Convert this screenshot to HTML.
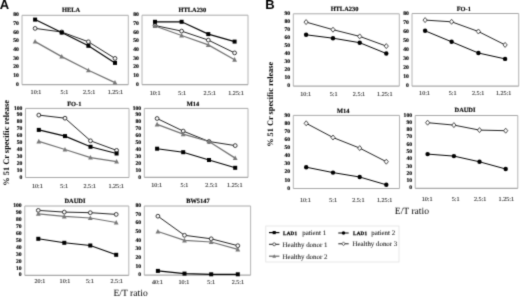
<!DOCTYPE html>
<html><head><meta charset="utf-8"><style>
html,body{margin:0;padding:0;background:#fff;}
body{width:520px;height:298px;overflow:hidden;position:relative;}
svg{position:absolute;left:0;top:0;filter:grayscale(1);}
text{font-family:"Liberation Serif", serif;fill:#000;text-rendering:geometricPrecision;}
.yl{font-size:5.6px;font-weight:bold;text-anchor:end;stroke:#000;stroke-width:0.15px;}
.xl{font-size:6.1px;text-anchor:middle;fill:#111;stroke:#111;stroke-width:0.08px;}
.tt{font-size:6.4px;font-weight:bold;text-anchor:middle;stroke:#000;stroke-width:0.15px;}
.lg{font-size:6.9px;fill:#111;stroke:#111;stroke-width:0.05px;}
.lgb{font-size:5.1px;font-weight:bold;letter-spacing:0.25px;stroke:#000;stroke-width:0.25px;}
.ax{font-size:8.3px;font-weight:bold;}
.et{font-size:9.6px;}
.pl{font-family:"Liberation Sans",sans-serif;font-weight:bold;font-size:13px;}
</style></head><body>
<svg width="520" height="298" viewBox="0 0 520 298">
<defs><filter id="soft" x="0" y="0" width="520" height="298" filterUnits="userSpaceOnUse" color-interpolation-filters="sRGB"><feConvolveMatrix order="3" kernelMatrix="2 10 2 10 52 10 2 10 2" edgeMode="duplicate"/></filter></defs>
<g filter="url(#soft)">
<rect x="0" y="0" width="520" height="298" fill="#fff"/>
<text x="-0.3" y="8.8" class="pl">A</text>
<text x="265.2" y="8.8" class="pl">B</text>
<text transform="translate(8.7,142.9) rotate(-90)" text-anchor="middle" class="ax" style="font-size:8.4px">% 51 Cr specific release</text>
<text transform="translate(273.3,104.3) rotate(-90)" text-anchor="middle" class="ax">% 51 Cr specific release</text>
<text x="113.5" y="295.8" class="et">E/T ratio</text>
<text x="394.8" y="214.4" class="et">E/T ratio</text>
<line x1="22" y1="15.3" x2="128.3" y2="15.3" stroke="#a8a8a8" stroke-width="1"/>
<line x1="128.3" y1="15.3" x2="128.3" y2="84.6" stroke="#b4b4b4" stroke-width="1"/>
<line x1="22" y1="15.3" x2="22" y2="84.6" stroke="#b4b4b4" stroke-width="1"/>
<line x1="22" y1="84.6" x2="128.3" y2="84.6" stroke="#a8a8a8" stroke-width="1.2"/>
<text x="18.80" y="85.75" class="yl">0</text>
<text x="18.80" y="77.09" class="yl">10</text>
<text x="18.80" y="68.42" class="yl">20</text>
<text x="18.80" y="59.76" class="yl">30</text>
<text x="18.80" y="51.10" class="yl">40</text>
<text x="18.80" y="42.44" class="yl">50</text>
<text x="18.80" y="33.77" class="yl">60</text>
<text x="18.80" y="25.11" class="yl">70</text>
<text x="18.80" y="16.45" class="yl">80</text>
<text x="36.00" y="94.10" class="xl">10:1</text>
<text x="64.30" y="94.10" class="xl">5:1</text>
<text x="89.10" y="94.10" class="xl">2.5:1</text>
<text x="115.40" y="94.10" class="xl">1.25:1</text>
<text x="71.1" y="12.0" class="tt">HELA</text>
<polyline points="35.10,28.40 61.70,32.00 88.40,41.80 115.00,58.40" fill="none" stroke="#222" stroke-width="1.0"/>
<polyline points="35.10,41.60 61.70,56.60 88.40,70.30 115.00,82.60" fill="none" stroke="#707070" stroke-width="1.25"/>
<polyline points="35.10,19.60 61.70,32.60 88.40,45.80 115.00,62.90" fill="none" stroke="#000" stroke-width="1.15"/>
<circle cx="35.10" cy="28.40" r="1.9" fill="#fff" stroke="#222" stroke-width="0.9"/>
<circle cx="61.70" cy="32.00" r="1.9" fill="#fff" stroke="#222" stroke-width="0.9"/>
<circle cx="88.40" cy="41.80" r="1.9" fill="#fff" stroke="#222" stroke-width="0.9"/>
<circle cx="115.00" cy="58.40" r="1.9" fill="#fff" stroke="#222" stroke-width="0.9"/>
<path d="M35.10 39.00L37.50 43.60L32.70 43.60Z" fill="#787878"/>
<path d="M61.70 54.00L64.10 58.60L59.30 58.60Z" fill="#787878"/>
<path d="M88.40 67.70L90.80 72.30L86.00 72.30Z" fill="#787878"/>
<path d="M115.00 80.00L117.40 84.60L112.60 84.60Z" fill="#787878"/>
<rect x="33.10" y="17.60" width="4" height="4" fill="#000"/>
<rect x="59.70" y="30.60" width="4" height="4" fill="#000"/>
<rect x="86.40" y="43.80" width="4" height="4" fill="#000"/>
<rect x="113.00" y="60.90" width="4" height="4" fill="#000"/>
<line x1="142" y1="15.2" x2="248" y2="15.2" stroke="#a8a8a8" stroke-width="1"/>
<line x1="248" y1="15.2" x2="248" y2="84.6" stroke="#b4b4b4" stroke-width="1"/>
<line x1="142" y1="15.2" x2="142" y2="84.6" stroke="#b4b4b4" stroke-width="1"/>
<line x1="142" y1="84.6" x2="248" y2="84.6" stroke="#a8a8a8" stroke-width="1.2"/>
<text x="138.80" y="85.75" class="yl">0</text>
<text x="138.80" y="77.08" class="yl">10</text>
<text x="138.80" y="68.40" class="yl">20</text>
<text x="138.80" y="59.72" class="yl">30</text>
<text x="138.80" y="51.05" class="yl">40</text>
<text x="138.80" y="42.38" class="yl">50</text>
<text x="138.80" y="33.70" class="yl">60</text>
<text x="138.80" y="25.02" class="yl">70</text>
<text x="138.80" y="16.35" class="yl">80</text>
<text x="155.10" y="94.50" class="xl">10:1</text>
<text x="182.20" y="94.50" class="xl">5:1</text>
<text x="209.70" y="94.50" class="xl">2.5:1</text>
<text x="236.00" y="94.50" class="xl">1.25:1</text>
<text x="192.4" y="12.3" class="tt">HTLA230</text>
<polyline points="155.00,25.50 181.60,31.10 208.30,40.10 234.60,52.90" fill="none" stroke="#222" stroke-width="1.0"/>
<polyline points="155.00,26.00 181.60,35.50 208.30,44.90 234.60,59.70" fill="none" stroke="#707070" stroke-width="1.25"/>
<polyline points="155.00,21.80 181.60,21.80 208.30,34.10 234.60,41.60" fill="none" stroke="#000" stroke-width="1.15"/>
<circle cx="155.00" cy="25.50" r="1.9" fill="#fff" stroke="#222" stroke-width="0.9"/>
<circle cx="181.60" cy="31.10" r="1.9" fill="#fff" stroke="#222" stroke-width="0.9"/>
<circle cx="208.30" cy="40.10" r="1.9" fill="#fff" stroke="#222" stroke-width="0.9"/>
<circle cx="234.60" cy="52.90" r="1.9" fill="#fff" stroke="#222" stroke-width="0.9"/>
<path d="M155.00 23.40L157.40 28.00L152.60 28.00Z" fill="#787878"/>
<path d="M181.60 32.90L184.00 37.50L179.20 37.50Z" fill="#787878"/>
<path d="M208.30 42.30L210.70 46.90L205.90 46.90Z" fill="#787878"/>
<path d="M234.60 57.10L237.00 61.70L232.20 61.70Z" fill="#787878"/>
<rect x="153.00" y="19.80" width="4" height="4" fill="#000"/>
<rect x="179.60" y="19.80" width="4" height="4" fill="#000"/>
<rect x="206.30" y="32.10" width="4" height="4" fill="#000"/>
<rect x="232.60" y="39.60" width="4" height="4" fill="#000"/>
<line x1="25.5" y1="108.4" x2="129" y2="108.4" stroke="#a8a8a8" stroke-width="1"/>
<line x1="129" y1="108.4" x2="129" y2="177.5" stroke="#b4b4b4" stroke-width="1"/>
<line x1="25.5" y1="108.4" x2="25.5" y2="177.5" stroke="#b4b4b4" stroke-width="1"/>
<line x1="25.5" y1="177.5" x2="129" y2="177.5" stroke="#a8a8a8" stroke-width="1.2"/>
<text x="22.30" y="178.65" class="yl">0</text>
<text x="22.30" y="171.74" class="yl">10</text>
<text x="22.30" y="164.83" class="yl">20</text>
<text x="22.30" y="157.92" class="yl">30</text>
<text x="22.30" y="151.01" class="yl">40</text>
<text x="22.30" y="144.10" class="yl">50</text>
<text x="22.30" y="137.19" class="yl">60</text>
<text x="22.30" y="130.28" class="yl">70</text>
<text x="22.30" y="123.37" class="yl">80</text>
<text x="22.30" y="116.46" class="yl">90</text>
<text x="22.30" y="109.55" class="yl">100</text>
<text x="37.40" y="187.50" class="xl">10:1</text>
<text x="64.10" y="187.50" class="xl">5:1</text>
<text x="89.70" y="187.50" class="xl">2.5:1</text>
<text x="116.20" y="187.50" class="xl">1.25:1</text>
<text x="74.3" y="106.4" class="tt">FO-1</text>
<polyline points="38.80,115.10 65.00,118.20 90.50,140.80 116.60,150.40" fill="none" stroke="#222" stroke-width="1.0"/>
<polyline points="38.80,141.40 65.00,149.50 90.50,157.60 116.60,161.60" fill="none" stroke="#707070" stroke-width="1.25"/>
<polyline points="38.80,129.90 65.00,136.10 90.50,146.80 116.60,153.50" fill="none" stroke="#000" stroke-width="1.15"/>
<circle cx="38.80" cy="115.10" r="1.9" fill="#fff" stroke="#222" stroke-width="0.9"/>
<circle cx="65.00" cy="118.20" r="1.9" fill="#fff" stroke="#222" stroke-width="0.9"/>
<circle cx="90.50" cy="140.80" r="1.9" fill="#fff" stroke="#222" stroke-width="0.9"/>
<circle cx="116.60" cy="150.40" r="1.9" fill="#fff" stroke="#222" stroke-width="0.9"/>
<path d="M38.80 138.80L41.20 143.40L36.40 143.40Z" fill="#787878"/>
<path d="M65.00 146.90L67.40 151.50L62.60 151.50Z" fill="#787878"/>
<path d="M90.50 155.00L92.90 159.60L88.10 159.60Z" fill="#787878"/>
<path d="M116.60 159.00L119.00 163.60L114.20 163.60Z" fill="#787878"/>
<rect x="36.80" y="127.90" width="4" height="4" fill="#000"/>
<rect x="63.00" y="134.10" width="4" height="4" fill="#000"/>
<rect x="88.50" y="144.80" width="4" height="4" fill="#000"/>
<rect x="114.60" y="151.50" width="4" height="4" fill="#000"/>
<line x1="144.3" y1="108.4" x2="248" y2="108.4" stroke="#a8a8a8" stroke-width="1"/>
<line x1="248" y1="108.4" x2="248" y2="177.4" stroke="#b4b4b4" stroke-width="1"/>
<line x1="144.3" y1="108.4" x2="144.3" y2="177.4" stroke="#b4b4b4" stroke-width="1"/>
<line x1="144.3" y1="177.4" x2="248" y2="177.4" stroke="#a8a8a8" stroke-width="1.2"/>
<text x="141.10" y="178.55" class="yl">0</text>
<text x="141.10" y="171.65" class="yl">10</text>
<text x="141.10" y="164.75" class="yl">20</text>
<text x="141.10" y="157.85" class="yl">30</text>
<text x="141.10" y="150.95" class="yl">40</text>
<text x="141.10" y="144.05" class="yl">50</text>
<text x="141.10" y="137.15" class="yl">60</text>
<text x="141.10" y="130.25" class="yl">70</text>
<text x="141.10" y="123.35" class="yl">80</text>
<text x="141.10" y="116.45" class="yl">90</text>
<text x="141.10" y="109.55" class="yl">100</text>
<text x="156.60" y="186.50" class="xl">10:1</text>
<text x="184.50" y="186.50" class="xl">5:1</text>
<text x="211.50" y="186.50" class="xl">2.5:1</text>
<text x="234.80" y="186.50" class="xl">1.25:1</text>
<text x="192.9" y="106.4" class="tt">M14</text>
<polyline points="157.10,118.50 183.20,131.10 209.00,141.50 235.20,145.60" fill="none" stroke="#222" stroke-width="1.0"/>
<polyline points="157.10,124.40 183.20,134.20 209.00,141.50 235.20,158.10" fill="none" stroke="#707070" stroke-width="1.25"/>
<polyline points="157.10,148.70 183.20,152.20 209.00,160.00 235.20,167.80" fill="none" stroke="#000" stroke-width="1.15"/>
<circle cx="157.10" cy="118.50" r="1.9" fill="#fff" stroke="#222" stroke-width="0.9"/>
<circle cx="183.20" cy="131.10" r="1.9" fill="#fff" stroke="#222" stroke-width="0.9"/>
<circle cx="209.00" cy="141.50" r="1.9" fill="#fff" stroke="#222" stroke-width="0.9"/>
<circle cx="235.20" cy="145.60" r="1.9" fill="#fff" stroke="#222" stroke-width="0.9"/>
<path d="M157.10 121.80L159.50 126.40L154.70 126.40Z" fill="#787878"/>
<path d="M183.20 131.60L185.60 136.20L180.80 136.20Z" fill="#787878"/>
<path d="M209.00 138.90L211.40 143.50L206.60 143.50Z" fill="#787878"/>
<path d="M235.20 155.50L237.60 160.10L232.80 160.10Z" fill="#787878"/>
<rect x="155.10" y="146.70" width="4" height="4" fill="#000"/>
<rect x="181.20" y="150.20" width="4" height="4" fill="#000"/>
<rect x="207.00" y="158.00" width="4" height="4" fill="#000"/>
<rect x="233.20" y="165.80" width="4" height="4" fill="#000"/>
<line x1="24.8" y1="206" x2="128.8" y2="206" stroke="#a8a8a8" stroke-width="1"/>
<line x1="128.8" y1="206" x2="128.8" y2="275.3" stroke="#b4b4b4" stroke-width="1"/>
<line x1="24.8" y1="206" x2="24.8" y2="275.3" stroke="#b4b4b4" stroke-width="1"/>
<line x1="24.8" y1="275.3" x2="128.8" y2="275.3" stroke="#a8a8a8" stroke-width="1.2"/>
<text x="21.60" y="276.45" class="yl">0</text>
<text x="21.60" y="269.52" class="yl">10</text>
<text x="21.60" y="262.59" class="yl">20</text>
<text x="21.60" y="255.66" class="yl">30</text>
<text x="21.60" y="248.73" class="yl">40</text>
<text x="21.60" y="241.80" class="yl">50</text>
<text x="21.60" y="234.87" class="yl">60</text>
<text x="21.60" y="227.94" class="yl">70</text>
<text x="21.60" y="221.01" class="yl">80</text>
<text x="21.60" y="214.08" class="yl">90</text>
<text x="21.60" y="207.15" class="yl">100</text>
<text x="39.90" y="283.20" class="xl">20:1</text>
<text x="65.00" y="283.20" class="xl">10:1</text>
<text x="89.80" y="283.20" class="xl">5:1</text>
<text x="116.70" y="283.20" class="xl">2.5:1</text>
<text x="74.9" y="203.4" class="tt">DAUDI</text>
<polyline points="38.30,210.40 64.30,212.10 90.30,212.70 116.20,214.40" fill="none" stroke="#222" stroke-width="1.0"/>
<polyline points="38.30,213.80 64.30,216.40 90.30,218.00 116.20,222.50" fill="none" stroke="#707070" stroke-width="1.25"/>
<polyline points="38.30,238.80 64.30,242.80 90.30,245.50 116.20,254.80" fill="none" stroke="#000" stroke-width="1.15"/>
<circle cx="38.30" cy="210.40" r="1.9" fill="#fff" stroke="#222" stroke-width="0.9"/>
<circle cx="64.30" cy="212.10" r="1.9" fill="#fff" stroke="#222" stroke-width="0.9"/>
<circle cx="90.30" cy="212.70" r="1.9" fill="#fff" stroke="#222" stroke-width="0.9"/>
<circle cx="116.20" cy="214.40" r="1.9" fill="#fff" stroke="#222" stroke-width="0.9"/>
<path d="M38.30 211.20L40.70 215.80L35.90 215.80Z" fill="#787878"/>
<path d="M64.30 213.80L66.70 218.40L61.90 218.40Z" fill="#787878"/>
<path d="M90.30 215.40L92.70 220.00L87.90 220.00Z" fill="#787878"/>
<path d="M116.20 219.90L118.60 224.50L113.80 224.50Z" fill="#787878"/>
<rect x="36.30" y="236.80" width="4" height="4" fill="#000"/>
<rect x="62.30" y="240.80" width="4" height="4" fill="#000"/>
<rect x="88.30" y="243.50" width="4" height="4" fill="#000"/>
<rect x="114.20" y="252.80" width="4" height="4" fill="#000"/>
<line x1="144.3" y1="206" x2="250.6" y2="206" stroke="#a8a8a8" stroke-width="1"/>
<line x1="250.6" y1="206" x2="250.6" y2="275.2" stroke="#b4b4b4" stroke-width="1"/>
<line x1="144.3" y1="206" x2="144.3" y2="275.2" stroke="#b4b4b4" stroke-width="1"/>
<line x1="144.3" y1="275.2" x2="250.6" y2="275.2" stroke="#a8a8a8" stroke-width="1.2"/>
<text x="141.10" y="276.35" class="yl">0</text>
<text x="141.10" y="267.70" class="yl">10</text>
<text x="141.10" y="259.05" class="yl">20</text>
<text x="141.10" y="250.40" class="yl">30</text>
<text x="141.10" y="241.75" class="yl">40</text>
<text x="141.10" y="233.10" class="yl">50</text>
<text x="141.10" y="224.45" class="yl">60</text>
<text x="141.10" y="215.80" class="yl">70</text>
<text x="141.10" y="207.15" class="yl">80</text>
<text x="157.30" y="283.90" class="xl">40:1</text>
<text x="183.90" y="283.90" class="xl">10:1</text>
<text x="211.20" y="283.90" class="xl">5:1</text>
<text x="237.90" y="283.90" class="xl">2.5:1</text>
<text x="197.9" y="203.4" class="tt">BW5147</text>
<polyline points="157.90,216.20 184.50,235.30 211.20,238.80 237.80,245.70" fill="none" stroke="#222" stroke-width="1.0"/>
<polyline points="157.90,231.50 184.50,240.40 211.20,242.00 237.80,249.40" fill="none" stroke="#707070" stroke-width="1.25"/>
<polyline points="157.90,270.90 184.50,273.60 211.20,274.30 237.80,274.30" fill="none" stroke="#000" stroke-width="1.15"/>
<circle cx="157.90" cy="216.20" r="1.9" fill="#fff" stroke="#222" stroke-width="0.9"/>
<circle cx="184.50" cy="235.30" r="1.9" fill="#fff" stroke="#222" stroke-width="0.9"/>
<circle cx="211.20" cy="238.80" r="1.9" fill="#fff" stroke="#222" stroke-width="0.9"/>
<circle cx="237.80" cy="245.70" r="1.9" fill="#fff" stroke="#222" stroke-width="0.9"/>
<path d="M157.90 228.90L160.30 233.50L155.50 233.50Z" fill="#787878"/>
<path d="M184.50 237.80L186.90 242.40L182.10 242.40Z" fill="#787878"/>
<path d="M211.20 239.40L213.60 244.00L208.80 244.00Z" fill="#787878"/>
<path d="M237.80 246.80L240.20 251.40L235.40 251.40Z" fill="#787878"/>
<rect x="155.90" y="268.90" width="4" height="4" fill="#000"/>
<rect x="182.50" y="271.60" width="4" height="4" fill="#000"/>
<rect x="209.20" y="272.30" width="4" height="4" fill="#000"/>
<rect x="235.80" y="272.30" width="4" height="4" fill="#000"/>
<line x1="293.3" y1="13.8" x2="399.3" y2="13.8" stroke="#a8a8a8" stroke-width="1"/>
<line x1="399.3" y1="13.8" x2="399.3" y2="86.2" stroke="#b4b4b4" stroke-width="1"/>
<line x1="293.3" y1="13.8" x2="293.3" y2="86.2" stroke="#b4b4b4" stroke-width="1"/>
<line x1="293.3" y1="86.2" x2="399.3" y2="86.2" stroke="#a8a8a8" stroke-width="1.2"/>
<text x="290.10" y="87.35" class="yl">0</text>
<text x="290.10" y="79.31" class="yl">10</text>
<text x="290.10" y="71.26" class="yl">20</text>
<text x="290.10" y="63.22" class="yl">30</text>
<text x="290.10" y="55.17" class="yl">40</text>
<text x="290.10" y="47.13" class="yl">50</text>
<text x="290.10" y="39.08" class="yl">60</text>
<text x="290.10" y="31.04" class="yl">70</text>
<text x="290.10" y="22.99" class="yl">80</text>
<text x="290.10" y="14.95" class="yl">90</text>
<text x="305.60" y="96.00" class="xl">10:1</text>
<text x="333.70" y="96.00" class="xl">5:1</text>
<text x="359.00" y="96.00" class="xl">2.5:1</text>
<text x="384.80" y="96.00" class="xl">1.25:1</text>
<text x="344.5" y="11.3" class="tt">HTLA230</text>
<polyline points="306.10,22.10 333.00,29.70 359.70,36.40 386.30,46.10" fill="none" stroke="#222" stroke-width="1.0"/>
<polyline points="306.10,34.80 333.00,38.20 359.70,42.70 386.30,53.50" fill="none" stroke="#000" stroke-width="1.0"/>
<path d="M306.10 19.60L308.20 22.10L306.10 24.60L304.00 22.10Z" fill="#fff" stroke="#222" stroke-width="0.8"/>
<path d="M333.00 27.20L335.10 29.70L333.00 32.20L330.90 29.70Z" fill="#fff" stroke="#222" stroke-width="0.8"/>
<path d="M359.70 33.90L361.80 36.40L359.70 38.90L357.60 36.40Z" fill="#fff" stroke="#222" stroke-width="0.8"/>
<path d="M386.30 43.60L388.40 46.10L386.30 48.60L384.20 46.10Z" fill="#fff" stroke="#222" stroke-width="0.8"/>
<circle cx="306.10" cy="34.80" r="2.2" fill="#000"/>
<circle cx="333.00" cy="38.20" r="2.2" fill="#000"/>
<circle cx="359.70" cy="42.70" r="2.2" fill="#000"/>
<circle cx="386.30" cy="53.50" r="2.2" fill="#000"/>
<line x1="412" y1="13.5" x2="518.7" y2="13.5" stroke="#a8a8a8" stroke-width="1"/>
<line x1="518.7" y1="13.5" x2="518.7" y2="86.2" stroke="#b4b4b4" stroke-width="1"/>
<line x1="412" y1="13.5" x2="412" y2="86.2" stroke="#b4b4b4" stroke-width="1"/>
<line x1="412" y1="86.2" x2="518.7" y2="86.2" stroke="#a8a8a8" stroke-width="1.2"/>
<text x="408.80" y="87.35" class="yl">0</text>
<text x="408.80" y="78.26" class="yl">10</text>
<text x="408.80" y="69.18" class="yl">20</text>
<text x="408.80" y="60.09" class="yl">30</text>
<text x="408.80" y="51.00" class="yl">40</text>
<text x="408.80" y="41.91" class="yl">50</text>
<text x="408.80" y="32.82" class="yl">60</text>
<text x="408.80" y="23.74" class="yl">70</text>
<text x="408.80" y="14.65" class="yl">80</text>
<text x="424.50" y="95.30" class="xl">10:1</text>
<text x="452.60" y="95.30" class="xl">5:1</text>
<text x="478.10" y="95.30" class="xl">2.5:1</text>
<text x="503.60" y="95.30" class="xl">1.25:1</text>
<text x="463.8" y="11.3" class="tt">FO-1</text>
<polyline points="425.10,20.10 451.60,21.80 478.40,31.50 505.10,44.90" fill="none" stroke="#222" stroke-width="1.0"/>
<polyline points="425.10,30.80 451.60,41.80 478.40,53.00 505.10,58.90" fill="none" stroke="#000" stroke-width="1.0"/>
<path d="M425.10 17.60L427.20 20.10L425.10 22.60L423.00 20.10Z" fill="#fff" stroke="#222" stroke-width="0.8"/>
<path d="M451.60 19.30L453.70 21.80L451.60 24.30L449.50 21.80Z" fill="#fff" stroke="#222" stroke-width="0.8"/>
<path d="M478.40 29.00L480.50 31.50L478.40 34.00L476.30 31.50Z" fill="#fff" stroke="#222" stroke-width="0.8"/>
<path d="M505.10 42.40L507.20 44.90L505.10 47.40L503.00 44.90Z" fill="#fff" stroke="#222" stroke-width="0.8"/>
<circle cx="425.10" cy="30.80" r="2.2" fill="#000"/>
<circle cx="451.60" cy="41.80" r="2.2" fill="#000"/>
<circle cx="478.40" cy="53.00" r="2.2" fill="#000"/>
<circle cx="505.10" cy="58.90" r="2.2" fill="#000"/>
<line x1="293.3" y1="115.4" x2="399.5" y2="115.4" stroke="#a8a8a8" stroke-width="1"/>
<line x1="399.5" y1="115.4" x2="399.5" y2="188.5" stroke="#b4b4b4" stroke-width="1"/>
<line x1="293.3" y1="115.4" x2="293.3" y2="188.5" stroke="#b4b4b4" stroke-width="1"/>
<line x1="293.3" y1="188.5" x2="399.5" y2="188.5" stroke="#a8a8a8" stroke-width="1.2"/>
<text x="290.10" y="189.65" class="yl">0</text>
<text x="290.10" y="181.53" class="yl">10</text>
<text x="290.10" y="173.41" class="yl">20</text>
<text x="290.10" y="165.28" class="yl">30</text>
<text x="290.10" y="157.16" class="yl">40</text>
<text x="290.10" y="149.04" class="yl">50</text>
<text x="290.10" y="140.92" class="yl">60</text>
<text x="290.10" y="132.79" class="yl">70</text>
<text x="290.10" y="124.67" class="yl">80</text>
<text x="290.10" y="116.55" class="yl">90</text>
<text x="305.40" y="201.50" class="xl">10:1</text>
<text x="333.20" y="201.50" class="xl">5:1</text>
<text x="358.40" y="201.50" class="xl">2.5:1</text>
<text x="384.70" y="201.50" class="xl">1.25:1</text>
<text x="343.3" y="112.6" class="tt">M14</text>
<polyline points="306.20,123.30 333.00,137.50 359.70,148.10 386.30,161.70" fill="none" stroke="#222" stroke-width="1.0"/>
<polyline points="306.20,167.20 333.00,172.60 359.70,177.00 386.30,184.80" fill="none" stroke="#000" stroke-width="1.0"/>
<path d="M306.20 120.80L308.30 123.30L306.20 125.80L304.10 123.30Z" fill="#fff" stroke="#222" stroke-width="0.8"/>
<path d="M333.00 135.00L335.10 137.50L333.00 140.00L330.90 137.50Z" fill="#fff" stroke="#222" stroke-width="0.8"/>
<path d="M359.70 145.60L361.80 148.10L359.70 150.60L357.60 148.10Z" fill="#fff" stroke="#222" stroke-width="0.8"/>
<path d="M386.30 159.20L388.40 161.70L386.30 164.20L384.20 161.70Z" fill="#fff" stroke="#222" stroke-width="0.8"/>
<circle cx="306.20" cy="167.20" r="2.2" fill="#000"/>
<circle cx="333.00" cy="172.60" r="2.2" fill="#000"/>
<circle cx="359.70" cy="177.00" r="2.2" fill="#000"/>
<circle cx="386.30" cy="184.80" r="2.2" fill="#000"/>
<line x1="415.2" y1="115.5" x2="517.8" y2="115.5" stroke="#a8a8a8" stroke-width="1"/>
<line x1="517.8" y1="115.5" x2="517.8" y2="188.3" stroke="#b4b4b4" stroke-width="1"/>
<line x1="415.2" y1="115.5" x2="415.2" y2="188.3" stroke="#b4b4b4" stroke-width="1"/>
<line x1="415.2" y1="188.3" x2="517.8" y2="188.3" stroke="#a8a8a8" stroke-width="1.2"/>
<text x="412.00" y="189.45" class="yl">0</text>
<text x="412.00" y="182.17" class="yl">10</text>
<text x="412.00" y="174.89" class="yl">20</text>
<text x="412.00" y="167.61" class="yl">30</text>
<text x="412.00" y="160.33" class="yl">40</text>
<text x="412.00" y="153.05" class="yl">50</text>
<text x="412.00" y="145.77" class="yl">60</text>
<text x="412.00" y="138.49" class="yl">70</text>
<text x="412.00" y="131.21" class="yl">80</text>
<text x="412.00" y="123.93" class="yl">90</text>
<text x="412.00" y="116.65" class="yl">100</text>
<text x="427.20" y="200.90" class="xl">10:1</text>
<text x="455.60" y="200.90" class="xl">5:1</text>
<text x="480.20" y="200.90" class="xl">2.5:1</text>
<text x="506.30" y="200.90" class="xl">1.25:1</text>
<text x="465.0" y="112.2" class="tt">DAUDI</text>
<polyline points="427.60,122.70 453.90,125.10 479.50,130.10 505.70,130.70" fill="none" stroke="#222" stroke-width="1.0"/>
<polyline points="427.60,154.10 453.90,156.10 479.50,161.80 505.70,169.00" fill="none" stroke="#000" stroke-width="1.0"/>
<path d="M427.60 120.20L429.70 122.70L427.60 125.20L425.50 122.70Z" fill="#fff" stroke="#222" stroke-width="0.8"/>
<path d="M453.90 122.60L456.00 125.10L453.90 127.60L451.80 125.10Z" fill="#fff" stroke="#222" stroke-width="0.8"/>
<path d="M479.50 127.60L481.60 130.10L479.50 132.60L477.40 130.10Z" fill="#fff" stroke="#222" stroke-width="0.8"/>
<path d="M505.70 128.20L507.80 130.70L505.70 133.20L503.60 130.70Z" fill="#fff" stroke="#222" stroke-width="0.8"/>
<circle cx="427.60" cy="154.10" r="2.2" fill="#000"/>
<circle cx="453.90" cy="156.10" r="2.2" fill="#000"/>
<circle cx="479.50" cy="161.80" r="2.2" fill="#000"/>
<circle cx="505.70" cy="169.00" r="2.2" fill="#000"/>
<rect x="265.8" y="226" width="133.2" height="36" fill="none" stroke="#e2e2e2" stroke-width="0.8"/>
<line x1="269.0" y1="232.6" x2="279.4" y2="232.6" stroke="#000" stroke-width="1.15"/><g transform="translate(274.2,232.6) scale(0.78) translate(-274.2,-232.6)"><rect x="272.20" y="230.60" width="4" height="4" fill="#000"/></g>
<text x="283" y="234.6" class="lgb">LAD1</text><text x="302.2" y="235" class="lg">patient 1</text>
<line x1="269.0" y1="244.3" x2="279.4" y2="244.3" stroke="#222" stroke-width="1.0"/><g transform="translate(274.2,244.3) scale(0.78) translate(-274.2,-244.3)"><circle cx="274.20" cy="244.30" r="1.9" fill="#fff" stroke="#222" stroke-width="0.9"/></g>
<text x="282.6" y="246.8" class="lg">Healthy donor 1</text>
<line x1="269.0" y1="256.2" x2="279.4" y2="256.2" stroke="#707070" stroke-width="1.25"/><g transform="translate(274.2,256.2) scale(0.78) translate(-274.2,-256.2)"><path d="M274.20 253.60L276.60 258.20L271.80 258.20Z" fill="#787878"/></g>
<text x="282.6" y="258.7" class="lg">Healthy donor 2</text>
<line x1="338.3" y1="233.0" x2="348.7" y2="233.0" stroke="#000" stroke-width="1.0"/><g transform="translate(343.5,233.0) scale(0.78) translate(-343.5,-233.0)"><circle cx="343.50" cy="233.00" r="2.2" fill="#000"/></g>
<text x="353" y="235" class="lgb">LAD1</text><text x="371.2" y="235.4" class="lg">patient 2</text>
<line x1="338.3" y1="243.8" x2="348.7" y2="243.8" stroke="#222" stroke-width="1.0"/><g transform="translate(343.5,243.8) scale(0.78) translate(-343.5,-243.8)"><path d="M343.50 241.30L345.60 243.80L343.50 246.30L341.40 243.80Z" fill="#fff" stroke="#222" stroke-width="0.8"/></g>
<text x="352.5" y="246.3" class="lg">Healthy donor 3</text>
</g>
</svg>
</body></html>
